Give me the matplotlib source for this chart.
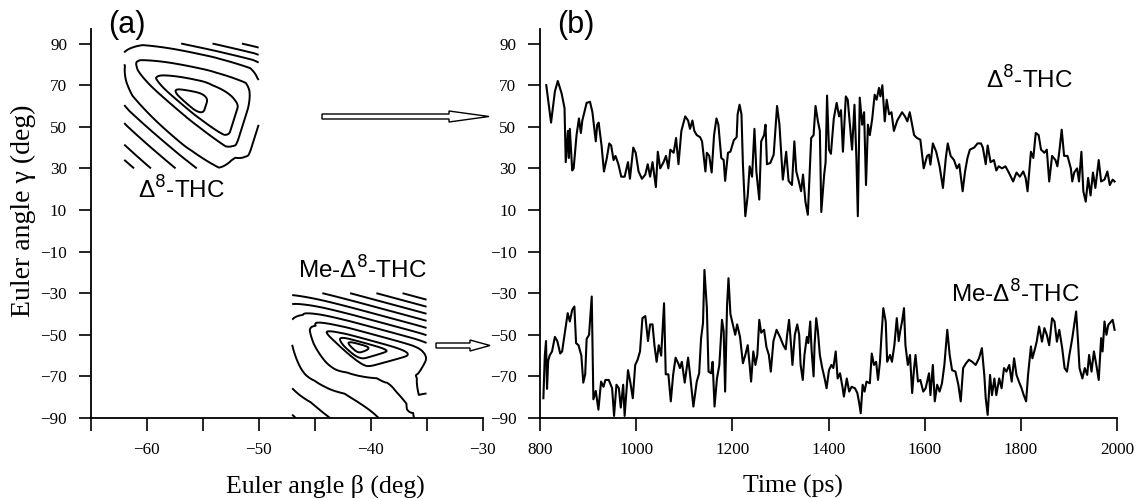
import numpy as np
import matplotlib
matplotlib.use("Agg")
import matplotlib.pyplot as plt
from matplotlib.patches import FancyArrow

# ---------------- data: panel (b) trajectories ----------------
t_thc = [813, 823, 831, 837, 845, 851, 853.5, 858, 860, 862, 867, 870, 876, 881, 885, 888, 897, 904, 909, 916,
         919, 922, 928, 933, 939, 944, 948, 953, 957, 963, 969, 976, 983, 987, 994, 999, 1005, 1012, 1019, 1024,
         1029, 1034, 1041, 1045, 1050, 1057, 1062, 1067, 1071, 1078, 1083, 1088, 1094, 1102, 1108, 1112, 1117,
         1121, 1126, 1133, 1137, 1144, 1147, 1152, 1157, 1162, 1167, 1171, 1177, 1182, 1185, 1191, 1196, 1203,
         1209, 1211, 1215, 1219, 1222, 1227, 1232, 1236, 1241, 1246, 1250, 1256, 1260, 1266, 1269, 1272, 1279,
         1286, 1293, 1298, 1305, 1312, 1317, 1324, 1329, 1333, 1338, 1343, 1347, 1352, 1357, 1364, 1369, 1373,
         1378, 1382, 1385, 1391, 1394, 1397, 1401, 1405, 1411, 1417, 1422, 1426, 1430, 1436, 1440, 1444, 1449,
         1454, 1458, 1461, 1465, 1470, 1474, 1478, 1482, 1486, 1491, 1496, 1500, 1505, 1508, 1512, 1517, 1521,
         1526, 1531, 1536, 1543, 1553, 1559, 1564, 1569, 1578, 1584, 1591, 1598, 1605, 1609, 1612, 1617, 1624,
         1631, 1638, 1644, 1648, 1654, 1661, 1667, 1672, 1679, 1684, 1689, 1694, 1703, 1710, 1717, 1721, 1727,
         1731, 1737, 1744, 1749, 1754, 1761, 1768, 1775, 1784, 1791, 1798, 1805, 1810, 1814, 1821, 1826, 1831,
         1837, 1842, 1849, 1854, 1859, 1865, 1872, 1876, 1880, 1885, 1890, 1897, 1904, 1907, 1911, 1917, 1921,
         1926, 1930, 1935, 1940, 1945, 1950, 1955, 1962, 1967, 1974, 1980, 1985, 1991, 1995]
v_thc = [70, 52, 67, 72, 66, 59, 33, 48, 35, 49, 29, 30, 46, 54, 47, 53, 61.5, 62, 57, 43,
         51, 52, 41, 28.5, 35, 42, 41, 34, 36, 32, 26, 26, 33, 25, 40, 37.5, 28.5, 25, 27, 32,
         26, 33, 21, 38, 30, 33, 36, 30, 39, 37.5, 44.6, 32, 48, 55, 53, 49, 53,
         48, 46, 45, 43, 28.5, 37.5, 36, 28, 46, 54, 51, 35, 34, 24, 37.5, 38, 43.5,
         45, 56, 60.6, 56, 32, 7, 17, 31, 26, 49, 28.5, 15, 43, 46, 51, 32, 32.6,
         36.6, 60, 51, 24.6, 38, 24, 22, 43, 28.5, 24, 19, 27, 14, 7.7, 44.6, 46, 60,
         52.6, 48, 9, 27, 33, 65, 39, 37, 54, 61.5, 55, 58, 38, 64.6, 63, 52.6, 39,
         60.6, 35, 7, 64, 51, 57, 22, 51, 46, 54, 65.4, 63, 68.7, 64.6, 70, 52.6, 63,
         56, 57, 48, 53, 57, 55, 52.6, 57, 46, 44.6, 43.8, 30, 36, 36.6, 31.8, 42, 38,
         31, 20.6, 35, 42, 36, 34, 30, 32, 19, 28.5, 35, 39, 40, 42, 42, 40, 32,
         41, 33, 34, 29, 31, 30, 31, 28, 23.7, 28, 26, 28.5, 25.4, 19, 38, 35, 47,
         46, 39, 37.5, 39, 23.7, 36, 34, 31, 38, 48.6, 36, 36, 30, 23.7, 28, 30, 23.7,
         38, 19, 14, 25.4, 17, 28, 20.6, 34, 23.7, 24.6, 28.5, 22, 24.6, 23.7]

t_me = [807, 810, 812.5, 814.6, 817, 820, 825, 831, 836, 842, 846, 852, 857.6, 862, 867, 871.5, 875, 880, 886,
        890, 894, 897, 902, 907.6, 911, 916, 921.5, 927, 932, 936, 943, 950, 954, 959, 964, 968, 973, 976, 983,
        988, 993, 998, 1003, 1008, 1013, 1019, 1024.6, 1029, 1034, 1038, 1042.5, 1047, 1052, 1058, 1061.5, 1067,
        1072, 1077, 1082, 1088, 1091, 1095, 1101, 1108, 1112, 1119, 1126, 1131, 1135, 1139, 1142, 1147, 1150.5,
        1156, 1159, 1163, 1168, 1173, 1178.5, 1182, 1185, 1189, 1192, 1196, 1201, 1206, 1210, 1216, 1222, 1227,
        1232, 1236, 1239, 1243.6, 1248, 1252, 1256, 1260, 1266, 1271, 1276, 1280, 1285.5, 1292, 1299, 1306, 1311,
        1314, 1318, 1321, 1325, 1330, 1335, 1339, 1342, 1346.5, 1350, 1355, 1358, 1362, 1365, 1369, 1371, 1374.5,
        1378, 1382, 1387, 1392, 1396, 1401, 1406, 1410, 1415, 1419, 1424, 1429, 1432, 1438, 1443, 1448, 1455,
        1460, 1464, 1467, 1471, 1475, 1479, 1486, 1490, 1494.5, 1499, 1503, 1507, 1510, 1514, 1519, 1522, 1528,
        1532, 1537, 1542, 1546, 1549, 1553, 1557, 1560, 1565, 1569.5, 1574, 1578, 1581, 1586, 1591, 1597, 1602,
        1609, 1612, 1617, 1621, 1626, 1631, 1636, 1641, 1647, 1652, 1657, 1664, 1670, 1675, 1680, 1686, 1692,
        1699, 1706, 1713, 1719, 1724, 1727, 1731, 1736, 1740, 1745, 1749, 1755, 1760, 1765, 1770, 1776, 1781,
        1786, 1791, 1796, 1801.5, 1806, 1811, 1815, 1821, 1824, 1828, 1833, 1838, 1844, 1849, 1854, 1859, 1865,
        1870, 1875, 1880, 1886, 1891, 1896, 1901, 1907, 1912, 1915, 1919, 1922, 1928, 1933, 1938, 1942, 1947,
        1952, 1957, 1962, 1967, 1970, 1974, 1978, 1982, 1988, 1991, 1995]
v_me = [-80.5, -60, -53, -76, -62.6, -60, -58, -51, -53, -59, -58, -48.4, -39.6, -43.6, -38, -36.4, -54, -55, -60,
        -73, -69, -52, -50, -31.6, -81, -77, -86, -72.5, -75, -71.7, -71.7, -75.7, -89, -74, -75.7, -85, -74, -89, -67,
        -73, -80.5, -64.5, -62, -58, -42, -41, -53, -45, -45, -55, -63, -55, -60, -34.8, -69, -69,
        -82, -69, -61, -64, -66, -63, -73, -61, -69, -84.5, -72.5, -68.5, -51.6, -44.4, -18.8, -37, -67.7,
        -68.5, -63, -84.5, -71, -64.5, -42.8, -48.4, -77.3, -36, -22.8, -40, -45, -50, -45, -51, -63.7, -59.7,
        -55, -64.5, -72.5, -58, -64.5, -59.7, -42.8, -49, -47.6, -56, -59.7, -67.7, -53, -47.6, -51, -55, -57,
        -50, -42.8, -51.6, -64.5, -50, -45, -50, -64.5, -71.7, -59.7, -51, -54, -43.6, -58, -70, -55, -42,
        -48.4, -59.7, -66, -71, -75.7, -67, -64.5, -66, -58, -71, -68.5, -75, -79.7, -71, -77.3, -75, -75.7,
        -78, -83, -87.7, -74, -77.3, -72.5, -73.3, -59, -64.5, -63, -71.7, -63, -51, -37.2, -43.6, -63, -59.7,
        -63, -55, -42, -53, -48.4, -43.6, -37.2, -55, -64.5, -59.7, -78, -66, -59.7, -72.5, -71.7, -77.3, -75.7,
        -68.5, -79, -64.5, -82, -74, -77.3, -73.3, -64.5, -47.6, -59.7, -67, -67.7, -74, -82, -66, -63.7, -62,
        -63, -64.5, -61.3, -56.4, -69.3, -80.5, -88.5, -69.3, -79, -71, -79, -71, -75.7, -66, -67.7, -64.5, -72.5,
        -61.3, -69.3, -72.5, -75.7, -79, -82, -69.3, -55.6, -61.3, -58, -53.3, -46, -53.3, -46.8, -50, -55, -42,
        -43.6, -53.3, -47.6, -56.4, -66, -67.7, -59.7, -51.6, -43.6, -38.8, -53.3, -66, -71, -66, -69.3, -59.7, -67.7,
        -58, -64.5, -71.7, -51.6, -58, -43.6, -50, -45.2, -43.6, -42.8, -47.6]

# ---------------- data: panel (a) free-energy maps ----------------
map_levels = [0.7, 1.5, 2.5, 3.5, 4.5, 5.5, 6.5, 7.5, 8.5, 9.5, 10.5, 11.5, 12.5, 13.5, 14.5]

# Delta8-THC map: window and minimum
thc_beta_range = (-62.0, -50.0)
thc_gamma_range = (30.0, 90.0)
thc_center = (-55.87, 63.05)
# wall profiles: (wall normal, distance from minimum, contour index)
thc_walls = [
    ((0.21, 0.98), [0, 8, 20, 32, 46, 52.5, 59, 65.5, 72, 150], [0, .7, 1.5, 2.5, 3.5, 4.5, 5.5, 6.5, 7.5, 20]),
    ((-0.64, -0.77), [0, 7, 10.6, 17.6, 41, 51, 64, 80, 91, 150], [0, .7, 1.5, 2.5, 3.5, 4.5, 5.5, 6.5, 7.5, 12]),
    ((0.95, -0.30), [0, 14, 45, 55, 70, 90, 150], [0, .7, 1.5, 2.5, 3.5, 4.5, 7]),
    ((-0.98, 0.20), [0, 30, 60, 75, 90, 150], [0, .7, 1.5, 2.5, 3.5, 6]),
]
thc_norm = 2.3

# Me-Delta8-THC map
me_beta_range = (-47.0, -35.0)
me_gamma_range = (-90.0, -30.0)
me_center = (-41.13, -56.3)
me_walls = [
    ((0.26, 0.97), [0, 4, 6.5, 10.5, 17, 117], [0, .7, 1.5, 2.5, 3.5, 18.2]),
    ((-0.65, -0.76), [0, 3.8, 8, 10.7, 34, 60, 80, 120], [0, .7, 1.5, 2.5, 3.5, 4.5, 5.5, 7.5]),
    ((0.95, -0.30), [0, 11.4, 50.6, 65, 72, 90, 130], [0, .7, 1.5, 2.5, 3.5, 4.5, 6.5]),
    ((-0.97, 0.26), [0, 11.6, 21, 43.5, 62, 100], [0, .7, 1.5, 2.5, 3.5, 5.5]),
    ((0.25, -0.97), [0, 5, 12, 21, 41, 100], [0, .7, 1.5, 2.5, 3.5, 4.1]),
]
me_norm = 3.5
# second basin beyond the lower-right corner of the Me map:
# (offset x, offset y, width x, width y, depth)
me_basin = (100.0, -75.0, 30.0, 25.0, 3.9)

# anisotropy factors (degree -> common length unit) used to shape the surfaces
K_BETA, K_GAMMA = 11.2, 2.078


def surface(B, G, center, walls, p):
    X = (B - center[0]) * K_BETA
    Y = (G - center[1]) * K_GAMMA
    acc = np.zeros_like(X)
    for (nx, ny), dist, lev in walls:
        d = nx * X + ny * Y
        g = np.interp(d, dist, lev, left=0.0)
        acc += g ** p
    return acc ** (1.0 / p), X, Y


plt.rcParams['font.family'] = ['Liberation Serif', 'DejaVu Serif']
plt.rcParams['axes.unicode_minus'] = True

W, H = 1136, 499
fig = plt.figure(figsize=(W / 100, H / 100), dpi=100)

ax_a = fig.add_axes([90.7 / W, 81 / H, 391.8 / W, 389 / H])
ax_b = fig.add_axes([540 / W, 81 / H, 577 / W, 389 / H])

yticks = [90, 70, 50, 30, 10, -10, -30, -50, -70, -90]
ylabels = [f"{v}".replace('-', '\u2212') for v in yticks]

for ax in (ax_a, ax_b):
    for s in ('top', 'right'):
        ax.spines[s].set_visible(False)
    for s in ('left', 'bottom'):
        ax.spines[s].set_linewidth(1.3)
    ax.set_ylim(-90, 97)
    ax.set_yticks(yticks)
    ax.set_yticklabels(ylabels)
    ax.tick_params(axis='both', which='both', direction='out', length=9, width=1.2,
                   labelsize=12.3, pad=8)

# panel (a)
ax_a.set_xlim(-65, -30)
ax_a.set_xticks([-60, -50, -40, -30])
ax_a.set_xticklabels(['\u221260', '\u221250', '\u221240', '\u221230'])
ax_a.set_xticks([-65, -55, -45, -35], minor=True)

b1 = np.linspace(*thc_beta_range, 400)
g1 = np.linspace(*thc_gamma_range, 400)
B1, G1 = np.meshgrid(b1, g1)
F1, _, _ = surface(B1, G1, thc_center, thc_walls, thc_norm)
ax_a.contour(B1, G1, F1, levels=map_levels, colors='k', linewidths=1.4)

b2 = np.linspace(*me_beta_range, 400)
g2 = np.linspace(*me_gamma_range, 400)
B2, G2 = np.meshgrid(b2, g2)
F2, X2, Y2 = surface(B2, G2, me_center, me_walls, me_norm)
bx, by, bwx, bwy, bd = me_basin
F2 = F2 - bd * np.exp(-0.5 * (((X2 - bx) / bwx) ** 2 + ((Y2 - by) / bwy) ** 2))
ax_a.contour(B2, G2, F2, levels=map_levels, colors='k', linewidths=1.4)

sans = ['Liberation Sans', 'DejaVu Sans']
lab_fs = 17.5
ax_a.text(-60.8, 19.7, '\u0394$^{8}$-THC', family=sans, fontsize=lab_fs, ha='left', va='center')
ax_a.text(-46.5, -18.8, 'Me-\u0394$^{8}$-THC', family=sans, fontsize=lab_fs, ha='left', va='center')

# panel (b)
ax_b.set_xlim(800, 2000)
ax_b.set_xticks([800, 1000, 1200, 1400, 1600, 1800, 2000])
ax_b.plot(t_thc, v_thc, color='k', lw=1.5)
ax_b.plot(t_me, v_me, color='k', lw=1.5)
ax_b.text(1727, 72.5, '\u0394$^{8}$-THC', family=sans, fontsize=lab_fs, ha='left', va='center')
ax_b.text(1654, -30.5, 'Me-\u0394$^{8}$-THC', family=sans, fontsize=lab_fs, ha='left', va='center')

# panel letters
fig.text(108 / W, 1 - 25 / H, '(a)', family=sans, fontsize=22, ha='left', va='center')
fig.text(557 / W, 1 - 25 / H, '(b)', family=sans, fontsize=22, ha='left', va='center')

# axis labels
fig.text(325 / W, 1 - 486 / H, 'Euler angle \u03b2 (deg)', fontsize=18.5, ha='center', va='center')
fig.text(793 / W, 1 - 486 / H, 'Time (ps)', fontsize=18.5, ha='center', va='center')
fig.text(23 / W, 1 - 211 / H, 'Euler angle \u03b3 (deg)', fontsize=20, ha='center', va='center',
         rotation=90)


# hollow arrows (pixel -> inch coordinates)
def hollow_arrow(x0, x1, y, shaft, head_w, head_l):
    arr = FancyArrow(x0 / 100, (H - y) / 100, (x1 - x0) / 100, 0, width=shaft / 100,
                     head_width=head_w / 100, head_length=head_l / 100,
                     length_includes_head=True, transform=fig.dpi_scale_trans,
                     facecolor='white', edgecolor='black', linewidth=1.0)
    fig.add_artist(arr)


hollow_arrow(322, 489, 116.5, 5, 11, 40)
hollow_arrow(436, 490, 345.5, 5, 11, 20)

fig.savefig('out.png', dpi=100)
